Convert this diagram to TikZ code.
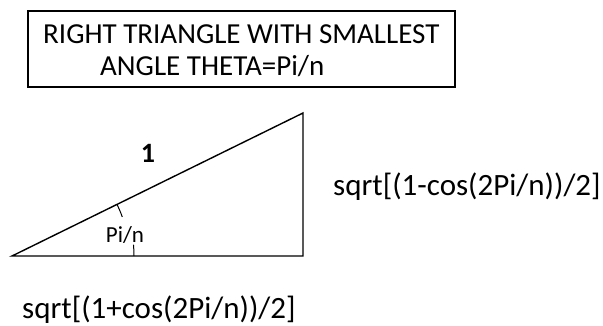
\documentclass[tikz,border=0pt]{standalone}
\usepackage{fontspec}
\setmainfont{Carlito}
\begin{document}
\begin{tikzpicture}[x=1pt,y=-1pt,
  lbl/.style={inner sep=0pt, anchor=base west, font=\fontsize{31}{36}\selectfont},
  ttl/.style={inner sep=0pt, anchor=base west, font=\fontsize{29}{34}\selectfont},
  edge/.style={line width=1.4pt},
  tick/.style={line width=1pt}]
\useasboundingbox (0,0) rectangle (603,325);
% title box
\node[draw, line width=1.2pt, minimum width=427pt, minimum height=76pt, inner sep=0pt] (title) at (241.5,49) {};
\node[ttl] (t1) at (43,43) {RIGHT TRIANGLE WITH SMALLEST};
\node[ttl] (t2) at (100,75) {ANGLE THETA=Pi/n};
% triangle
\coordinate (A) at (12,256);
\coordinate (B) at (303,256);
\coordinate (C) at (303,113);
\draw[edge] (A) -- (B) -- (C) -- cycle;
% angle ticks
\draw[tick] ([shift={(0:122)}]A) arc[start angle=0, end angle=-5.3, radius=122];
\draw[tick] ([shift={(-19.5:117)}]A) arc[start angle=-19.5, end angle=-26.2, radius=117];
% labels
\node[inner sep=0pt, font=\bfseries\fontsize{28}{32}\selectfont] (one) at (148,153) {1};
\node[inner sep=0pt, font=\fontsize{23}{26}\selectfont] (ang) at (125,235) {Pi/n};
\node[lbl] (opp) at (333,195) {sqrt[(1-cos(2Pi/n))/2]};
\node[lbl] (adj) at (22,318) {sqrt[(1+cos(2Pi/n))/2]};
\end{tikzpicture}
\end{document}
